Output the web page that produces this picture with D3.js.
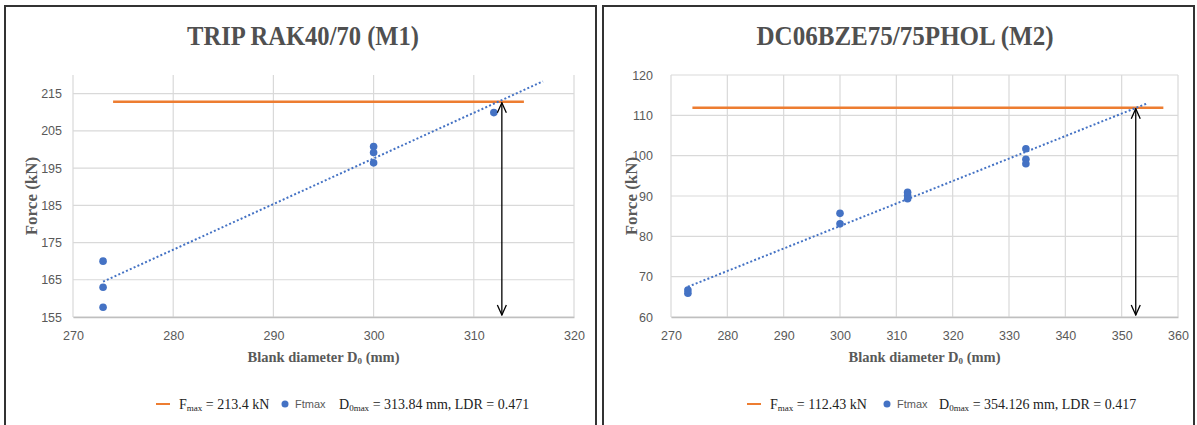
<!DOCTYPE html>
<html>
<head>
<meta charset="utf-8">
<script src="https://cdn.jsdelivr.net/npm/d3@7"></script>
<style>
  body { margin: 0; background: #fff; }
  svg { display: block; }
</style>
</head>
<body>
<svg id="chart" width="1197" height="425"></svg>
<script>
// M1 : TRIP RAK40/70
var m1Title = "TRIP RAK40/70 (M1)";
var m1Diameter = [273, 273, 273, 300, 300, 300, 312];
var m1Force = [170.0, 163.0, 157.6, 200.8, 199.2, 196.4, 209.9];
var m1XTicks = [270, 280, 290, 300, 310, 320];
var m1YTicks = [155, 165, 175, 185, 195, 205, 215];
var m1XDomain = [270, 320];
var m1YDomain = [155, 220];
var m1FmaxLine = { from: 274, to: 315, value: 212.8 };
var m1TrendX = [273, 316.9];
var m1TrendY = [164.5, 218.3];
var m1D0max = 312.8;
var m1Fmax = "213.4";
var m1D0text = " = 313.84 mm, LDR = 0.471";

// M2 : DC06BZE75/75PHOL
var m2Title = "DC06BZE75/75PHOL (M2)";
var m2Diameter = [273, 273, 300, 300, 312, 312, 312, 333, 333, 333];
var m2Force = [66.7, 65.9, 85.7, 83.1, 90.9, 90.1, 89.3, 101.7, 99.1, 98.0];
var m2XTicks = [270, 280, 290, 300, 310, 320, 330, 340, 350, 360];
var m2YTicks = [60, 70, 80, 90, 100, 110, 120];
var m2XDomain = [270, 360];
var m2YDomain = [60, 120];
var m2FmaxLine = { from: 273.8, to: 357.4, value: 111.9 };
var m2TrendX = [273, 354.6];
var m2TrendY = [67.5, 113.0];
var m2D0max = 352.5;
var m2Fmax = "112.43";
var m2D0text = " = 354.126 mm, LDR = 0.417";

var svg = d3.select("#chart");
var serif = "'Liberation Serif', 'Times New Roman', serif";
var sans = "'Liberation Sans', Arial, sans-serif";
var grey = "#595959";

// marker pour la fleche
var defs = svg.append("defs");
defs.append("marker")
  .attr("id", "head")
  .attr("viewBox", "0 0 12 12")
  .attr("refX", 11)
  .attr("refY", 6)
  .attr("markerWidth", 12)
  .attr("markerHeight", 12)
  .attr("markerUnits", "userSpaceOnUse")
  .attr("orient", "auto-start-reverse")
  .append("path")
  .attr("d", "M1,1.5 L11,6 L1,10.5")
  .attr("fill", "none")
  .attr("stroke", "#000")
  .attr("stroke-width", 1.3);

function drawPanel(p) {
  var g = svg.append("g");

  // cadre
  g.append("rect")
    .attr("x", p.frameX)
    .attr("y", 6)
    .attr("width", 591)
    .attr("height", 440)
    .attr("fill", "none")
    .attr("stroke", "#333")
    .attr("stroke-width", 2);

  var x = d3.scaleLinear().domain(p.xDomain).range([p.left, p.right]);
  var y = d3.scaleLinear().domain(p.yDomain).range([317, 75]);

  // grille
  g.selectAll(".vgrid")
    .data(p.xTicks)
    .enter()
    .append("line")
    .attr("x1", function (d) { return x(d); })
    .attr("x2", function (d) { return x(d); })
    .attr("y1", y(p.yDomain[0]))
    .attr("y2", y(p.yDomain[1]))
    .attr("stroke", "#d9d9d9")
    .attr("stroke-width", 1.2);

  g.selectAll(".hgrid")
    .data(p.yTicks)
    .enter()
    .append("line")
    .attr("x1", p.left)
    .attr("x2", p.right)
    .attr("y1", function (d) { return y(d); })
    .attr("y2", function (d) { return y(d); })
    .attr("stroke", "#d9d9d9")
    .attr("stroke-width", 1.2);

  // axes
  var xAxis = d3.axisBottom(x).tickValues(p.xTicks).tickSize(0).tickPadding(14);
  var yAxis = d3.axisLeft(y).tickValues(p.yTicks).tickSize(0).tickPadding(p.yPad);

  var gx = g.append("g")
    .attr("transform", "translate(0," + y(p.yDomain[0]) + ")")
    .call(xAxis);
  gx.select(".domain").attr("stroke", "#bfbfbf").attr("stroke-width", 1.5);

  var gy = g.append("g")
    .attr("transform", "translate(" + p.left + ",0)")
    .call(yAxis);
  gy.select(".domain").remove();

  g.selectAll(".tick text")
    .attr("fill", grey)
    .style("font-family", sans)
    .style("font-size", "12.5px");

  // titre
  g.append("text")
    .attr("x", p.titleX)
    .attr("y", 45)
    .attr("text-anchor", "middle")
    .attr("textLength", p.titleW)
    .attr("lengthAdjust", "spacingAndGlyphs")
    .attr("fill", "#505050")
    .style("font-family", serif)
    .style("font-weight", "bold")
    .style("font-size", "28px")
    .text(p.title);

  // titre axe x
  var xt = g.append("text")
    .attr("x", (p.left + p.right) / 2)
    .attr("y", 362)
    .attr("text-anchor", "middle")
    .attr("fill", grey)
    .style("font-family", serif)
    .style("font-weight", "bold")
    .style("font-size", "14.5px");
  xt.append("tspan").text("Blank diameter D");
  xt.append("tspan").attr("font-size", "9px").attr("dy", 2).text("0");
  xt.append("tspan").attr("dy", -2).text(" (mm)");

  // titre axe y
  g.append("text")
    .attr("transform", "translate(" + p.yTitleX + ",196) rotate(-90)")
    .attr("text-anchor", "middle")
    .attr("fill", grey)
    .style("font-family", serif)
    .style("font-weight", "bold")
    .style("font-size", "17px")
    .text("Force (kN)");

  // ligne Fmax
  g.append("line")
    .attr("x1", x(p.fmaxLine.from))
    .attr("x2", x(p.fmaxLine.to))
    .attr("y1", y(p.fmaxLine.value))
    .attr("y2", y(p.fmaxLine.value))
    .attr("stroke", "#ED7D31")
    .attr("stroke-width", 2.5);

  // tendance
  var trend = p.trendX.map(function (d, i) { return [d, p.trendY[i]]; });
  g.append("path")
    .datum(trend)
    .attr("d", d3.line()
      .x(function (d) { return x(d[0]); })
      .y(function (d) { return y(d[1]); }))
    .attr("fill", "none")
    .attr("stroke", "#4472C4")
    .attr("stroke-width", 2)
    .attr("stroke-dasharray", "2,2.2");

  // points
  g.selectAll(".dot")
    .data(p.diameter)
    .enter()
    .append("circle")
    .attr("cx", function (d) { return x(d); })
    .attr("cy", function (d, i) { return y(p.force[i]); })
    .attr("r", 3.8)
    .attr("fill", "#4472C4");

  // fleche D0max
  g.append("line")
    .attr("x1", x(p.d0max))
    .attr("x2", x(p.d0max))
    .attr("y1", y(p.fmaxLine.value) + 1)
    .attr("y2", y(p.yDomain[0]) - 2)
    .attr("stroke", "#000")
    .attr("stroke-width", 1.3)
    .attr("marker-start", "url(#head)")
    .attr("marker-end", "url(#head)");

  // legende
  var ly = 404;
  g.append("line")
    .attr("x1", p.leg[0])
    .attr("x2", p.leg[0] + 14)
    .attr("y1", ly)
    .attr("y2", ly)
    .attr("stroke", "#ED7D31")
    .attr("stroke-width", 2);

  var lf = g.append("text")
    .attr("x", p.leg[1])
    .attr("y", ly + 5)
    .attr("fill", "#222")
    .style("font-family", serif)
    .style("font-size", "14px");
  lf.append("tspan").text("F");
  lf.append("tspan").attr("font-size", "9px").attr("dy", 2).text("max");
  lf.append("tspan").attr("dy", -2).text(" = " + p.fmax + " kN");

  g.append("circle")
    .attr("cx", p.leg[2])
    .attr("cy", ly)
    .attr("r", 3.5)
    .attr("fill", "#4472C4");

  g.append("text")
    .attr("x", p.leg[3])
    .attr("y", ly + 4)
    .attr("fill", grey)
    .style("font-family", sans)
    .style("font-size", "11px")
    .text("Ftmax");

  var ld = g.append("text")
    .attr("x", p.leg[4])
    .attr("y", ly + 5)
    .attr("fill", "#222")
    .style("font-family", serif)
    .style("font-size", "14px");
  ld.append("tspan").text("D");
  ld.append("tspan").attr("font-size", "9px").attr("dy", 2).text("0max");
  ld.append("tspan").attr("dy", -2).text(p.d0text);
}

drawPanel({
  frameX: 5, left: 73, right: 574, yPad: 11,
  title: m1Title, titleX: 303, titleW: 232, yTitleX: 37,
  diameter: m1Diameter, force: m1Force,
  xTicks: m1XTicks, yTicks: m1YTicks, xDomain: m1XDomain, yDomain: m1YDomain,
  fmaxLine: m1FmaxLine, trendX: m1TrendX, trendY: m1TrendY, d0max: m1D0max,
  fmax: m1Fmax, d0text: m1D0text,
  leg: [156, 179, 285, 295, 339]
});

drawPanel({
  frameX: 603, left: 671, right: 1178, yPad: 18,
  title: m2Title, titleX: 905, titleW: 297, yTitleX: 637,
  diameter: m2Diameter, force: m2Force,
  xTicks: m2XTicks, yTicks: m2YTicks, xDomain: m2XDomain, yDomain: m2YDomain,
  fmaxLine: m2FmaxLine, trendX: m2TrendX, trendY: m2TrendY, d0max: m2D0max,
  fmax: m2Fmax, d0text: m2D0text,
  leg: [747, 770, 887, 897, 939]
});
</script>
</body>
</html>
